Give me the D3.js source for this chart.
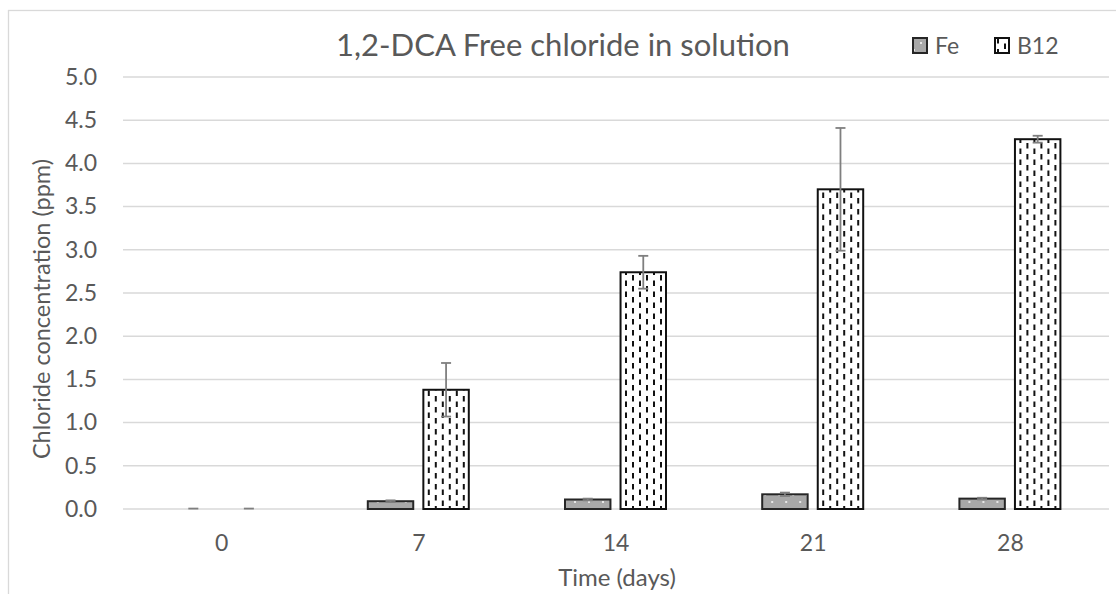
<!DOCTYPE html>
<html>
<head>
<meta charset="utf-8">
<script src="https://cdn.jsdelivr.net/npm/d3@7/dist/d3.min.js"></script>
<style>
  html, body { margin: 0; padding: 0; background: #fff; }
  svg { display: block; font-family: Lato, "Open Sans", sans-serif; }
</style>
</head>
<body>
<svg id="chart" width="1116" height="594"></svg>
<script>
// Sampling days and measured free chloride (ppm) with standard deviations
const days = ["0", "7", "14", "21", "28"];
const seriesNames = ["Fe", "B12"];
const feValues = [0.0, 0.09, 0.11, 0.17, 0.12];
const feErrors = [0.005, 0.01, 0.01, 0.02, 0.01];
const b12Values = [0.0, 1.38, 2.74, 3.70, 4.28];
const b12Errors = [0.005, 0.31, 0.19, 0.71, 0.04];
const yTicks = [0, 0.5, 1.0, 1.5, 2.0, 2.5, 3.0, 3.5, 4.0, 4.5, 5.0];

const titleText = "1,2-DCA Free chloride in solution";
const xTitle = "Time (days)";
const yTitle = "Chloride concentration (ppm)";

const svg = d3.select("#chart");
const textColor = "#595959";
const gridColor = "#d9d9d9";

const plot = { left: 123, right: 1109, top: 77, bottom: 509 };

// Outer chart frame
svg.append("rect")
  .attr("x", 8.5).attr("y", 10.5)
  .attr("width", 1200).attr("height", 700)
  .attr("fill", "none").attr("stroke", gridColor).attr("stroke-width", 1.3);

// Fill patterns for the two series
const defs = svg.append("defs");
const dots = defs.append("pattern")
  .attr("id", "pat-fe").attr("patternUnits", "userSpaceOnUse")
  .attr("width", 14).attr("height", 14);
dots.append("rect").attr("width", 14).attr("height", 14).attr("fill", "#a8a8a8");
dots.append("rect").attr("x", 7).attr("y", 4).attr("width", 2).attr("height", 2).attr("fill", "#e6e6e6");
dots.append("rect").attr("x", 0).attr("y", 11).attr("width", 2).attr("height", 2).attr("fill", "#e6e6e6");

const dash = defs.append("pattern")
  .attr("id", "pat-b12").attr("patternUnits", "userSpaceOnUse")
  .attr("width", 14).attr("height", 11);
dash.append("rect").attr("width", 14).attr("height", 11).attr("fill", "#ffffff");
dash.append("rect").attr("x", 2).attr("y", 0).attr("width", 2).attr("height", 5.5).attr("fill", "#111");
dash.append("rect").attr("x", 9).attr("y", 5.5).attr("width", 2).attr("height", 5.5).attr("fill", "#111");

const fills = { Fe: "url(#pat-fe)", B12: "url(#pat-b12)" };
const strokes = { Fe: "#262626", B12: "#111111" };

// Scales
const x0 = d3.scaleBand().domain(days).range([plot.left, plot.right]).padding(0);
const x1 = d3.scaleBand().domain(seriesNames).range([-51, 50]).paddingInner(10 / 55);
const y = d3.scaleLinear().domain([0, 5]).range([plot.bottom, plot.top]);

// Horizontal gridlines
svg.append("g")
  .selectAll("line")
  .data(yTicks)
  .join("line")
  .attr("x1", plot.left).attr("x2", plot.right)
  .attr("y1", d => y(d)).attr("y2", d => y(d))
  .attr("stroke", gridColor).attr("stroke-width", 1.5);

// Y axis labels
const yAxis = svg.append("g")
  .attr("transform", `translate(${plot.left},0)`)
  .call(d3.axisLeft(y).tickValues(yTicks).tickFormat(d3.format(".1f")).tickSize(0).tickPadding(26));
yAxis.select(".domain").remove();
yAxis.selectAll("text")
  .attr("fill", textColor).style("font-size", "23px").style("font-family", "Lato, sans-serif");

// X axis labels
const xAxis = svg.append("g")
  .attr("transform", `translate(0,${plot.bottom})`)
  .call(d3.axisBottom(x0).tickSize(0).tickPadding(26));
xAxis.select(".domain").remove();
xAxis.selectAll("text")
  .attr("fill", textColor).style("font-size", "23px").style("font-family", "Lato, sans-serif");

// Assemble rows
const rows = days.map((d, i) => ({
  day: d,
  items: [
    { name: "Fe", value: feValues[i], err: feErrors[i] },
    { name: "B12", value: b12Values[i], err: b12Errors[i] }
  ]
}));

const groups = svg.append("g").selectAll("g")
  .data(rows)
  .join("g")
  .attr("transform", d => `translate(${x0(d.day) + x0.bandwidth() / 2},0)`);

groups.selectAll("rect")
  .data(d => d.items.filter(it => it.value > 0))
  .join("rect")
  .attr("x", d => x1(d.name))
  .attr("width", x1.bandwidth())
  .attr("y", d => y(d.value))
  .attr("height", d => y(0) - y(d.value))
  .attr("fill", d => fills[d.name])
  .attr("stroke", d => strokes[d.name])
  .attr("stroke-width", 2);

// Error bars
const errColor = "#7f7f7f";
const eb = groups.selectAll("g.err")
  .data(d => d.items)
  .join("g").attr("class", "err")
  .attr("transform", d => `translate(${x1(d.name) + x1.bandwidth() / 2},0)`);
eb.append("line")
  .attr("x1", 0).attr("x2", 0)
  .attr("y1", d => y(Math.max(0, d.value - d.err)))
  .attr("y2", d => y(d.value + d.err))
  .attr("stroke", errColor).attr("stroke-width", 1.8);
eb.append("line")
  .attr("x1", -5).attr("x2", 5)
  .attr("y1", d => y(d.value + d.err)).attr("y2", d => y(d.value + d.err))
  .attr("stroke", errColor).attr("stroke-width", 1.8);
eb.filter(d => d.value - d.err > 0).append("line")
  .attr("x1", -5).attr("x2", 5)
  .attr("y1", d => y(d.value - d.err)).attr("y2", d => y(d.value - d.err))
  .attr("stroke", errColor).attr("stroke-width", 1.8);

// Title
svg.append("text")
  .attr("x", 563).attr("y", 56)
  .attr("text-anchor", "middle")
  .attr("fill", textColor)
  .style("font-size", "31px")
  .text(titleText);

// Axis titles
svg.append("text")
  .attr("x", 617).attr("y", 586)
  .attr("text-anchor", "middle")
  .attr("fill", textColor)
  .style("font-size", "24px")
  .text(xTitle);

svg.append("text")
  .attr("transform", `translate(50,${(plot.top + plot.bottom) / 2 + 16}) rotate(-90)`)
  .attr("text-anchor", "middle")
  .attr("fill", textColor)
  .style("font-size", "23.5px")
  .text(yTitle);

// Legend
const legendX = { Fe: 913, B12: 995 };
const legend = svg.append("g").selectAll("g")
  .data(seriesNames)
  .join("g")
  .attr("transform", d => `translate(${legendX[d]},38)`);
legend.append("rect")
  .attr("width", 14).attr("height", 15)
  .attr("fill", d => fills[d])
  .attr("stroke", d => strokes[d]).attr("stroke-width", 2);
legend.append("text")
  .attr("x", 22).attr("y", 16)
  .attr("fill", textColor)
  .style("font-size", "23px")
  .text(d => d);
</script>
</body>
</html>
